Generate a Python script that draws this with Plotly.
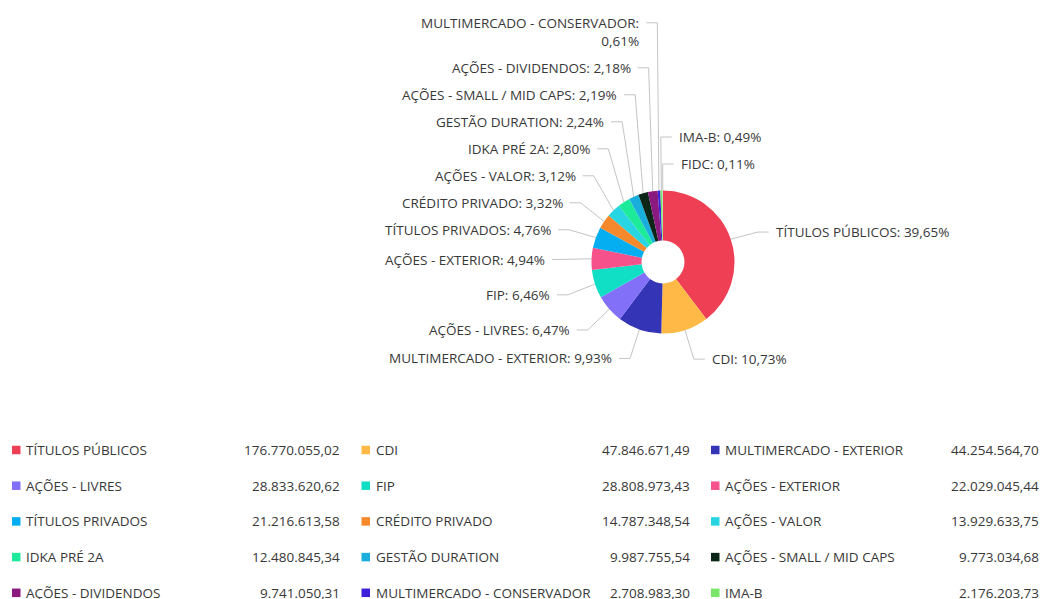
import math
import plotly.graph_objects as go

# ---------------- data ----------------
categories = [
    "TÍTULOS PÚBLICOS", "CDI", "MULTIMERCADO - EXTERIOR", "AÇÕES - LIVRES", "FIP",
    "AÇÕES - EXTERIOR", "TÍTULOS PRIVADOS", "CRÉDITO PRIVADO", "AÇÕES - VALOR",
    "IDKA PRÉ 2A", "GESTÃO DURATION", "AÇÕES - SMALL / MID CAPS", "AÇÕES - DIVIDENDOS",
    "MULTIMERCADO - CONSERVADOR", "IMA-B", "FIDC",
]
values = [
    176770055.02, 47846671.49, 44254564.70, 28833620.62, 28808973.43,
    22029045.44, 21216613.58, 14787348.54, 13929633.75,
    12480845.34, 9987755.54, 9773034.68, 9741050.31,
    2708983.30, 2176203.73, 489700.00,
]
colors = [
    "#EE3F55", "#FFB946", "#3434B6", "#8270F8", "#10DFC5",
    "#F6518B", "#04AEF0", "#F6892B", "#28D5E3",
    "#1DEB9B", "#1AAEDC", "#0B2616", "#8B1A80",
    "#3C1EDB", "#79E66A", "#C9C9C9",
]

# ---------------- layout constants ----------------
W, H = 1042, 599
CX, CY, R = 663, 262, 71.5
HOLE = 0.3
LABEL_R = 100
SEG = 11
GAP = 5
LINE_H = 18
BOX_H = 27
FONT = "Open Sans"
FONT_SIZE = 13.5
TEXT_COLOR = "#383838"
LINE_COLOR = "#C4C4C4"

LEG_X0, COL_W = 12, 349.5
ROW_Y0, ROW_H = 450, 35.7
N_COLS = 3
MARK = 8.5
VAL_OFF = 330


def br_num(v):
    s = f"{v:,.2f}"
    return s.replace(",", "#").replace(".", ",").replace("#", ".")


total = sum(values)
pcts = [v / total for v in values]

fig = go.Figure()

fig.add_trace(go.Pie(
    labels=categories, values=values, sort=False, direction="clockwise",
    rotation=0, hole=HOLE, textinfo="none", showlegend=False,
    marker=dict(colors=colors, line=dict(width=0)),
    domain=dict(x=[(CX - R) / W, (CX + R) / W],
                y=[(H - CY - R) / H, (H - CY + R) / H]),
    hoverinfo="label+percent",
))

# ---------------- pie labels with leader lines ----------------
items = []
cum = 0.0
for name, p in zip(categories, pcts):
    mid = (cum + p / 2) * 360.0
    cum += p
    th = math.radians(mid)
    text = f"{name}: {p*100:.2f}".replace(".", ",") + "%"
    if len(text) > 31:
        text = text.replace(": ", ":<br>", 1)
    n = text.count("<br>") + 1
    right = mid < 180 or mid > 358
    signed = mid - 360 if mid > 180 and right else mid
    items.append(dict(text=text, n=n, th=th, right=right, signed=signed,
                      y0=CY + 2 - LABEL_R * math.cos(th)))

for side in (True, False):
    grp = [it for it in items if it["right"] == side]
    # process from the bottom label upward
    if side:
        grp.sort(key=lambda d: -d["signed"])
    else:
        grp.sort(key=lambda d: d["signed"])
    prev = None
    for it in grp:
        y = it["y0"]
        if prev is not None:
            y = min(y, prev - BOX_H - (it["n"] - 1) * LINE_H)
        it["y"] = y
        prev = y

lx, ly = [], []
annotations = []
for it in items:
    th = it["th"]
    ex, ey = CX + R * math.sin(th), CY - R * math.cos(th)
    bx = CX + LABEL_R * math.sin(th)
    y = it["y"]
    sgn = 1 if it["right"] else -1
    endx = bx + sgn * SEG
    lx += [ex, bx, endx, None]
    ly += [ey, y, y, None]
    annotations.append(dict(
        x=endx + sgn * GAP, y=y + (it["n"] - 1) * LINE_H / 2,
        xref="x", yref="y", text=it["text"], showarrow=False,
        xanchor="left" if it["right"] else "right", yanchor="middle",
        align="left" if it["right"] else "right",
        font=dict(family=FONT, size=FONT_SIZE, color=TEXT_COLOR),
    ))

fig.add_trace(go.Scatter(x=lx, y=ly, mode="lines", hoverinfo="skip",
                         line=dict(color=LINE_COLOR, width=1), showlegend=False))

# ---------------- custom legend ----------------
mx, my, mc = [], [], []
for i, (name, v, c) in enumerate(zip(categories, values, colors)):
    row, col = divmod(i, N_COLS)
    y = ROW_Y0 + row * ROW_H
    if y > H:
        continue
    x0 = LEG_X0 + col * COL_W
    mx.append(x0 + MARK / 2)
    my.append(y)
    mc.append(c)
    annotations.append(dict(x=x0 + 12, y=y, xref="x", yref="y", text=name,
                            showarrow=False, xanchor="left", yanchor="middle",
                            font=dict(family=FONT, size=FONT_SIZE, color=TEXT_COLOR)))
    annotations.append(dict(x=x0 + VAL_OFF, y=y, xref="x", yref="y", text=br_num(v),
                            showarrow=False, xanchor="right", yanchor="middle",
                            font=dict(family=FONT, size=FONT_SIZE, color=TEXT_COLOR)))

fig.add_trace(go.Scatter(x=mx, y=my, mode="markers", hoverinfo="skip", showlegend=False,
                         marker=dict(symbol="square", size=MARK, color=mc, line=dict(width=0))))

fig.update_layout(
    width=W, height=H, autosize=False,
    margin=dict(l=0, r=0, t=0, b=0, pad=0),
    paper_bgcolor="white", plot_bgcolor="white",
    xaxis=dict(range=[0, W], visible=False, fixedrange=True, domain=[0, 1]),
    yaxis=dict(range=[H, 0], visible=False, fixedrange=True, domain=[0, 1]),
    annotations=annotations,
    showlegend=False,
)

fig.write_html("out.html")
